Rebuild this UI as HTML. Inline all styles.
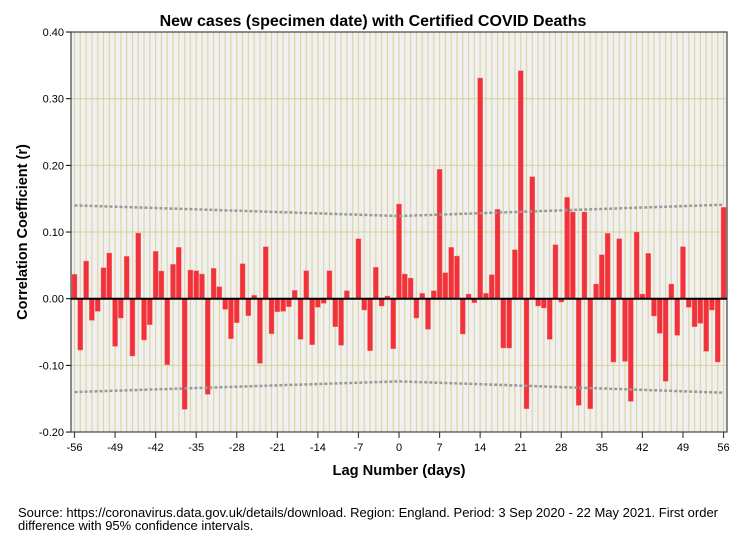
<!DOCTYPE html>
<html><head><meta charset="utf-8"><style>
body{margin:0;background:#fff;width:747px;height:541px;overflow:hidden;font-family:"Liberation Sans",Arial,sans-serif}
</style></head><body>
<svg width="747" height="541" xmlns="http://www.w3.org/2000/svg">
<text x="373" y="26" text-anchor="middle" font-size="16" font-weight="bold">New cases (specimen date) with Certified COVID Deaths</text>
<rect x="71" y="32" width="656" height="400" fill="#f0f0f0"/>
<g id="grid"></g><g id="bars"></g><g id="ci"></g><g id="axes"></g>
<text transform="translate(27,232) rotate(-90)" text-anchor="middle" font-size="14.5" font-weight="bold">Correlation Coefficient (r)</text>
<text x="399" y="475" text-anchor="middle" font-size="14.7" font-weight="bold">Lag Number (days)</text>
<text x="18" y="517" font-size="13">Source: https://coronavirus.data.gov.uk/details/download. Region: England. Period: 3 Sep 2020 - 22 May 2021. First order</text>
<text x="18" y="530" font-size="13">difference with 95% confidence intervals.</text>
</svg>
<script>
const lags=[];for(let l=-56;l<=56;l++)lags.push(l);
const values=[0.0365,-0.077,0.0565,-0.0325,-0.019,0.0465,0.0685,-0.0715,-0.029,0.0635,-0.086,0.0985,-0.062,-0.039,0.071,0.0415,-0.099,0.0515,0.077,-0.166,0.043,0.042,0.037,-0.1435,0.0455,0.018,-0.016,-0.060,-0.036,0.0525,-0.0255,0.005,-0.097,0.078,-0.0525,-0.0195,
-0.019,-0.012,0.0125,-0.061,0.042,-0.069,-0.013,-0.007,0.042,-0.042,-0.070,0.012,0.001,0.090,-0.017,-0.078,0.047,-0.011,0.004,-0.075,
0.142,0.037,0.031,-0.029,0.008,-0.046,0.012,0.194,0.039,0.077,0.064,-0.053,0.007,-0.006,0.331,0.008,0.036,0.134,-0.074,-0.074,0.0735,0.342,-0.165,0.183,-0.011,-0.014,-0.061,0.081,-0.005,0.152,0.130,-0.160,0.130,-0.165,0.022,0.066,0.098,-0.095,0.090,-0.094,-0.154,0.100,0.007,0.068,-0.026,-0.052,-0.124,0.022,-0.055,0.078,-0.013,-0.042,-0.037,-0.079,-0.017,-0.095,0.137];
const ciEnds=[0.140,0.124,0.141];
const yTicks=[0.4,0.3,0.2,0.1,0,-0.1,-0.2];
const yLabels=["0.40","0.30","0.20","0.10","0.00","-0.10","-0.20"];
const xTicks=[-56,-49,-42,-35,-28,-21,-14,-7,0,7,14,21,28,35,42,49,56];
const NS="http://www.w3.org/2000/svg";
const X=l=>74.5+(l+56)*5.795;
const Y=v=>298.7-v*666.7;
function mk(tag,at,parent){const e=document.createElementNS(NS,tag);for(const k in at)e.setAttribute(k,at[k]);document.getElementById(parent).appendChild(e);return e;}
lags.forEach(l=>{const e=mk('line',{x1:X(l),x2:X(l),y1:32,y2:432,stroke:'#dcd6a8','stroke-width':1.2},'grid');

});
yTicks.forEach(t=>{const e=mk('line',{x1:71,x2:727,y1:Y(t),y2:Y(t),stroke:'#d8d09a','stroke-width':1},'grid');

});
lags.forEach((l,i)=>{const v=values[i];const y0=Y(0),y1=Y(v);
const e=mk('rect',{x:X(l)-2.5,y:Math.min(y0,y1),width:5,height:Math.abs(y1-y0),fill:'#f0323a',stroke:'#f77','stroke-width':0.4},'bars');

});
function ci(l){const t=Math.abs(l)/56;return l<0?ciEnds[1]+(ciEnds[0]-ciEnds[1])*t:ciEnds[1]+(ciEnds[2]-ciEnds[1])*t;}
[1,-1].forEach(s=>{let d='';lags.forEach((l,i)=>{d+=(i?'L':'M')+X(l)+' '+Y(s*ci(l));});
const e=mk('path',{d:d,fill:'none',stroke:'#999','stroke-width':2.5,'stroke-dasharray':'3 2'},'ci');

});
let e=mk('rect',{x:71,y:32,width:656,height:400,fill:'none',stroke:'#444','stroke-width':1.2},'axes');


e=mk('line',{x1:71,x2:727,y1:Y(0),y2:Y(0),stroke:'#000','stroke-width':2},'axes');


yTicks.forEach((t,i)=>{let a=mk('line',{x1:66,x2:71,y1:Y(t),y2:Y(t),stroke:'#000'},'axes');


let tx=mk('text',{x:64,y:Y(t)+4,'text-anchor':'end','font-size':11},'axes');tx.textContent=yLabels[i];

});
xTicks.forEach(t=>{let a=mk('line',{x1:X(t),x2:X(t),y1:432,y2:438,stroke:'#444','stroke-width':1.2},'axes');


let tx=mk('text',{x:X(t),y:451,'text-anchor':'middle','font-size':11},'axes');tx.textContent=String(t);

});
</script>
</body></html>
